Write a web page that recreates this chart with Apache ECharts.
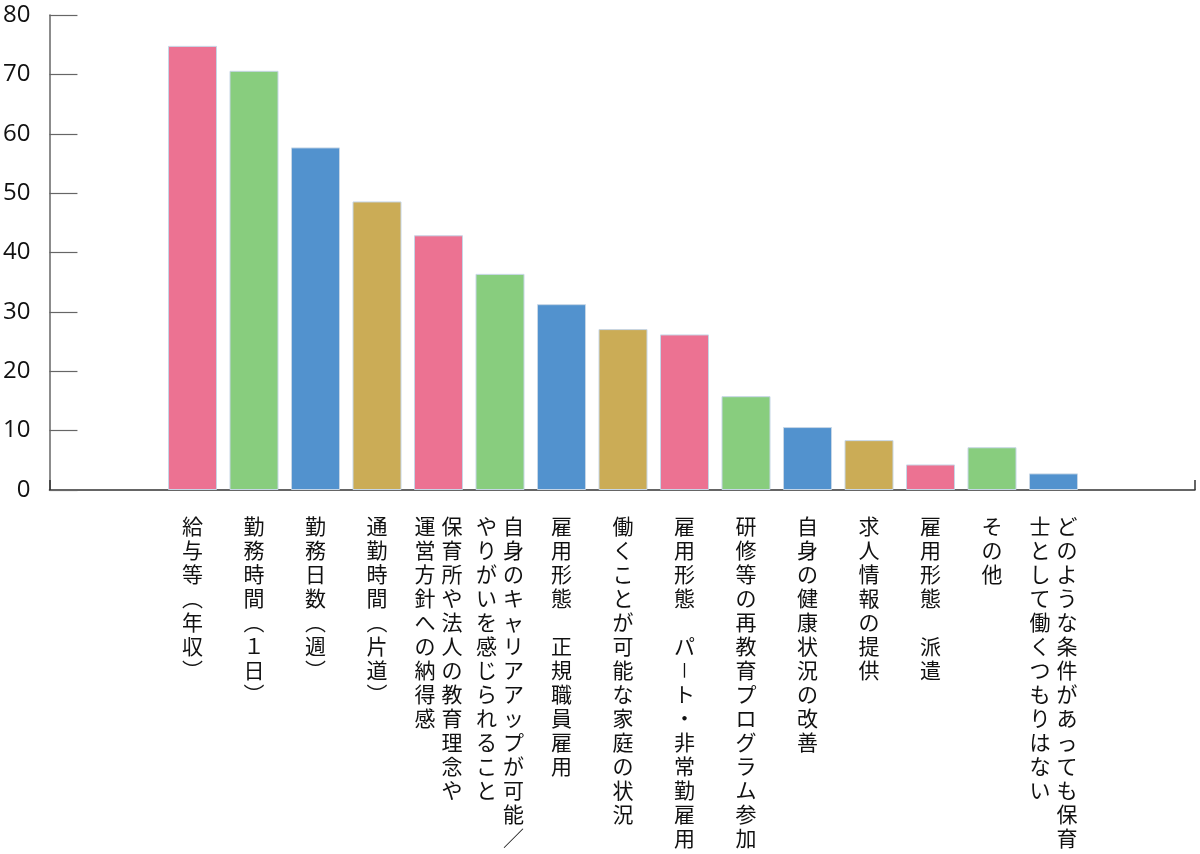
<!DOCTYPE html>
<html>
<head>
<meta charset="utf-8">
<script src="https://cdn.jsdelivr.net/npm/echarts@6/dist/echarts.min.js"></script>
<style>html,body{margin:0;padding:0;background:#fff}#c{width:1200px;height:854px}</style>
</head>
<body>
<div id="c"></div>
<script>
// columns of each vertical label are separated by '\n' (first column = rightmost)
const categories = [
  '給与等（年収）',
  '勤務時間（１日）',
  '勤務日数（週）',
  '通勤時間（片道）',
  '保育所や法人の教育理念や\n運営方針への納得感',
  '自身のキャリアアップが可能／\nやりがいを感じられること',
  '雇用形態　正規職員雇用',
  '働くことが可能な家庭の状況',
  '雇用形態　パート・非常勤雇用',
  '研修等の再教育プログラム参加',
  '自身の健康状況の改善',
  '求人情報の提供',
  '雇用形態　派遣',
  'その他',
  'どのような条件があっても保育\n士として働くつもりはない'
];
const values = [74.8, 70.6, 57.7, 48.6, 42.9, 36.4, 31.3, 27.1, 26.2, 15.8, 10.6, 8.4, 4.3, 7.2, 2.8];
const palette = ['#EC7292', '#88CD7E', '#5292CE', '#CBAC56'];
const yTicks = [0, 10, 20, 30, 40, 50, 60, 70, 80];

const vmap = {'（': '︵', '）': '︶', 'ー': '丨'};
function vertical(label) {
  const cols = label.split('\n').map(s => Array.from(s).map(ch => vmap[ch] || ch));
  const n = Math.max(...cols.map(c => c.length));
  const rows = [];
  for (let i = 0; i < n; i++) {
    let row = '';
    for (let j = cols.length - 1; j >= 0; j--) {
      const ch = cols[j][i] || '　';
      row += (ch === '丨' ? '{d|' : '{c|') + ch + '}';
    }
    rows.push(row);
  }
  return rows.join('\n');
}

const chart = echarts.init(document.getElementById('c'));
const TOP = 15, BOTTOM = 364;
const cjk = '"Noto Sans CJK JP", sans-serif';
chart.setOption({
  animation: false,
  backgroundColor: '#fff',
  grid: [
    {left: 47, right: 5, top: TOP, bottom: BOTTOM},
    {left: 161.75, width: 922.5, top: TOP, bottom: BOTTOM}
  ],
  xAxis: [
    {
      gridIndex: 0, type: 'value', min: 0, max: 1, interval: 1,
      axisLine: {show: true, lineStyle: {color: '#333', width: 1.5}},
      axisTick: {show: true, inside: true, length: 10, lineStyle: {color: '#333', width: 1.5}},
      axisLabel: {show: false}, splitLine: {show: false}
    },
    {
      gridIndex: 1, type: 'category', data: categories,
      axisLine: {show: false}, axisTick: {show: false},
      axisLabel: {
        interval: 0, margin: 24, verticalAlign: 'top',
        formatter: v => vertical(v),
        rich: {
          c: {fontSize: 21, lineHeight: 24, width: 27, align: 'center', color: '#111', fontFamily: cjk},
          d: {fontSize: 16, lineHeight: 24, width: 27, align: 'center', color: '#111', fontFamily: cjk}
        }
      }
    }
  ],
  yAxis: [
    {
      gridIndex: 0, type: 'value', min: 0, max: 80, interval: 10,
      axisLine: {show: true, lineStyle: {color: '#666', width: 1.5}},
      axisTick: {show: true, inside: true, length: 28, lineStyle: {color: '#666', width: 1.2}},
      axisLabel: {
        margin: 19, fontSize: 24, color: '#111', fontFamily: '"Open Sans", sans-serif',
        formatter: v => yTicks.includes(v) ? String(v) : ''
      },
      splitLine: {show: false}
    },
    {
      gridIndex: 1, type: 'value', min: 0, max: 80, interval: 10, show: false
    }
  ],
  series: [{
    type: 'bar',
    xAxisIndex: 1, yAxisIndex: 1,
    barWidth: 49,
    data: values.map((v, i) => ({
      value: v,
      itemStyle: {color: palette[i % 4], borderColor: '#c6d6e6', borderWidth: 1}
    }))
  }]
});
</script>
</body>
</html>
